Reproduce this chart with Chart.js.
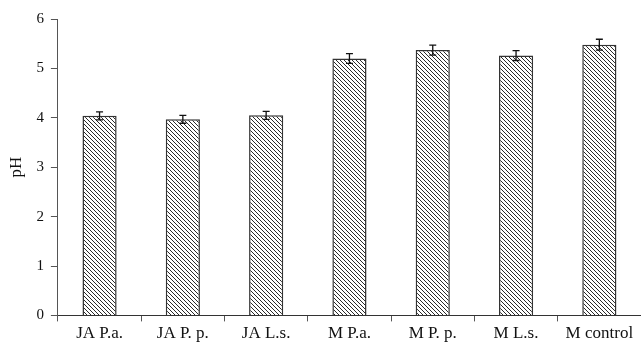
<!DOCTYPE html>
<html>
<head>
<meta charset="utf-8">
<script src="https://cdn.jsdelivr.net/npm/chart.js@4/dist/chart.umd.min.js"></script>
<style>
  html, body { margin: 0; padding: 0; background: #fff; }
  #wrap { width: 641px; height: 345px; }
</style>
</head>
<body>
<div id="wrap"><canvas id="c" width="641" height="345"></canvas></div>
<script>
// pH of each treatment with standard-error bars
const categories = ['JA P.a.', 'JA P. p.', 'JA L.s.', 'M P.a.', 'M P. p.', 'M L.s.', 'M control'];
const phValues = [4.04, 3.97, 4.05, 5.20, 5.37, 5.26, 5.48];
const phErrors = [0.08, 0.08, 0.08, 0.10, 0.10, 0.10, 0.11];
const yTicks = [0, 1, 2, 3, 4, 5, 6];

// Diagonal hatch fill for the bars
function makeHatch() {
  const s = 4;
  const p = document.createElement('canvas');
  p.width = s; p.height = s;
  const g = p.getContext('2d');
  g.fillStyle = '#ffffff';
  g.fillRect(0, 0, s, s);
  g.strokeStyle = '#2a2a2a';
  g.lineWidth = 1;
  g.beginPath();
  g.moveTo(-1, -1); g.lineTo(s + 1, s + 1);
  g.moveTo(-1, s - 1); g.lineTo(1, s + 1);
  g.moveTo(s - 1, -1); g.lineTo(s + 1, 1);
  g.stroke();
  return g.createPattern(p, 'repeat');
}

// Draws vertical error bars with caps on top of each bar
const errorBars = {
  id: 'errorBars',
  afterDatasetsDraw(chart) {
    const ctx = chart.ctx;
    const y = chart.scales.y;
    const meta = chart.getDatasetMeta(0);
    ctx.save();
    ctx.strokeStyle = '#111';
    ctx.lineWidth = 1.3;
    meta.data.forEach((bar, i) => {
      const x = bar.x;
      const top = y.getPixelForValue(phValues[i] + phErrors[i]);
      const bot = y.getPixelForValue(phValues[i] - phErrors[i]);
      const cap = 3.5;
      ctx.beginPath();
      ctx.moveTo(x, top); ctx.lineTo(x, bot);
      ctx.moveTo(x - cap, top); ctx.lineTo(x + cap, top);
      ctx.moveTo(x - cap, bot); ctx.lineTo(x + cap, bot);
      ctx.stroke();
    });
    ctx.restore();
  }
};

const serif = "'Liberation Serif', 'DejaVu Serif', serif";

new Chart(document.getElementById('c'), {
  type: 'bar',
  data: {
    labels: categories,
    datasets: [{
      data: phValues,
      backgroundColor: makeHatch(),
      borderColor: '#333',
      borderWidth: 1.5,
      barPercentage: 0.41,
      categoryPercentage: 1.0
    }]
  },
  options: {
    responsive: false,
    animation: false,
    devicePixelRatio: 1,
    layout: { padding: { top: 19, right: 0, bottom: 0, left: 0 } },
    plugins: { legend: { display: false }, tooltip: { enabled: false } },
    scales: {
      x: {
        grid: { display: true, offset: true, drawOnChartArea: false, drawTicks: true, tickLength: 6, color: '#555' },
        border: { display: true, color: '#333', width: 1 },
        ticks: { color: '#111', font: { family: serif, size: 17, lineHeight: 0.8 }, maxRotation: 0, autoSkip: false, padding: 5 }
      },
      y: {
        min: 0, max: 6,
        afterBuildTicks(axis) { axis.ticks = yTicks.map(v => ({ value: v })); },
        grid: { display: true, drawOnChartArea: false, drawTicks: true, tickLength: 7, color: '#555' },
        border: { display: true, color: '#555', width: 1 },
        title: { display: true, text: 'pH', color: '#111', font: { family: serif, size: 17 }, padding: { top: 6, bottom: 3 } },
        ticks: { color: '#111', font: { family: serif, size: 15 }, padding: 7 }
      }
    }
  },
  plugins: [errorBars]
});
</script>
</body>
</html>
